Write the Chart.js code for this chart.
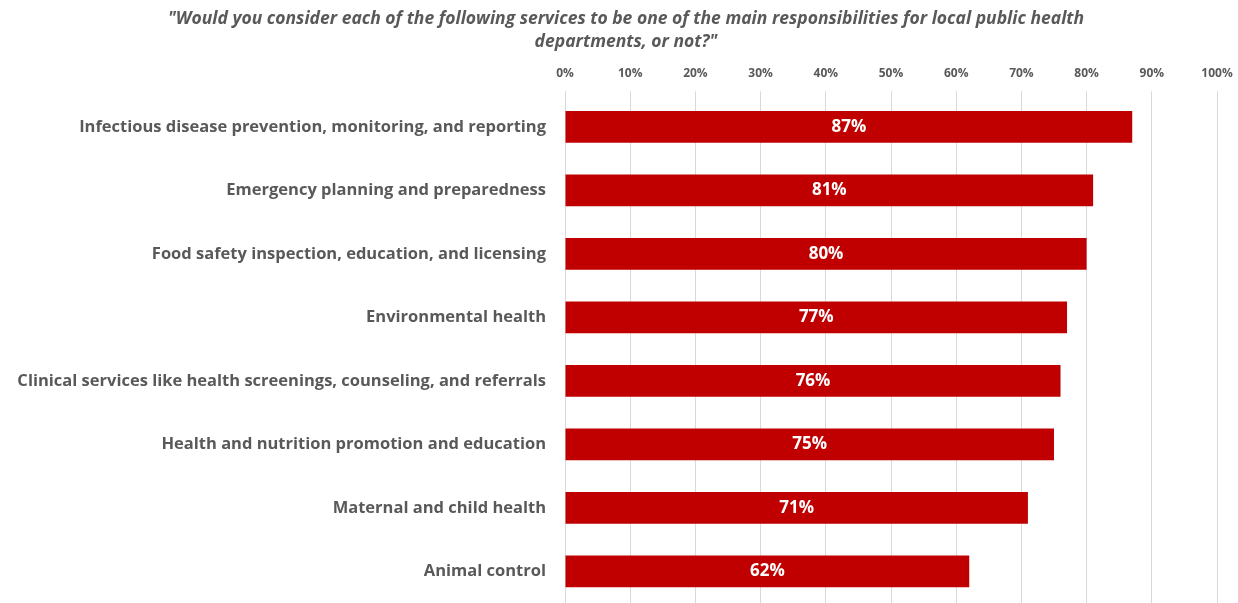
<!DOCTYPE html>
<html>
<head>
<meta charset="utf-8">
<script src="https://cdn.jsdelivr.net/npm/chart.js@4"></script>
<style>
  html, body { margin: 0; padding: 0; background: #fff; overflow: hidden; }
  canvas { display: block; }
</style>
</head>
<body>
<canvas id="chart" width="1238" height="603"></canvas>
<script>
const titleLines = [
  '"Would you consider each of the following services to be one of the main responsibilities for local public health',
  'departments, or not?"'
];
const services = [
  'Infectious disease prevention, monitoring, and reporting',
  'Emergency planning and preparedness',
  'Food safety inspection, education, and licensing',
  'Environmental health',
  'Clinical services like health screenings, counseling, and referrals',
  'Health and nutrition promotion and education',
  'Maternal and child health',
  'Animal control'
];
const shares = [87, 81, 80, 77, 76, 75, 71, 62];

const FONT = '"Open Sans", Lato, sans-serif';
const GREY = '#595959';

// white % labels centred on each bar
const barLabels = {
  id: 'barLabels',
  afterDatasetsDraw(chart) {
    const ctx = chart.ctx;
    const meta = chart.getDatasetMeta(0);
    ctx.save();
    ctx.font = 'bold 17px ' + FONT;
    ctx.fillStyle = '#ffffff';
    ctx.textAlign = 'center';
    ctx.textBaseline = 'middle';
    meta.data.forEach((bar, i) => {
      const x = (bar.x + bar.base) / 2;
      ctx.fillText(shares[i] + '%', x, bar.y);
    });
    ctx.restore();
  }
};

new Chart(document.getElementById('chart'), {
  type: 'bar',
  data: {
    labels: services,
    datasets: [{
      data: shares,
      backgroundColor: '#c00000',
      borderWidth: 0,
      barPercentage: 0.5,
      categoryPercentage: 1
    }]
  },
  options: {
    indexAxis: 'y',
    responsive: false,
    animation: false,
    // plot runs a few px past the bottom edge, so the last bar sits low
    layout: { padding: { left: 14, right: 0, top: 0, bottom: -3 } },
    plugins: {
      legend: { display: false },
      tooltip: { enabled: false },
      title: {
        display: true,
        text: titleLines,
        color: GREY,
        font: { family: FONT, size: 17.5, weight: 'bold', style: 'italic', lineHeight: 1.35 },
        padding: { top: 7, bottom: 0 }
      }
    },
    scales: {
      x: {
        position: 'top',
        min: 0,
        max: 100,
        ticks: {
          stepSize: 10,
          color: GREY,
          padding: 10,
          font: { family: FONT, size: 12, weight: 'bold' },
          callback: v => v + '%'
        },
        grid: { color: '#d9d9d9', lineWidth: 1, tickLength: 4 },
        border: { display: false },
        afterFit(scale) {
          scale.height = 41;
          scale.paddingLeft = 0;
          scale.paddingRight = 21;
        }
      },
      y: {
        ticks: {
          color: GREY,
          padding: 11,
          font: { family: FONT, size: 16.5, weight: 'bold' }
        },
        grid: { display: false },
        border: { display: false },
        afterFit(scale) {
          // labels sit left of the plot; keep the plot running down to the bottom edge
          scale.width = 551;
          scale.paddingTop = 0;
          scale.paddingBottom = 0;
        }
      }
    }
  },
  plugins: [barLabels]
});
</script>
</body>
</html>
